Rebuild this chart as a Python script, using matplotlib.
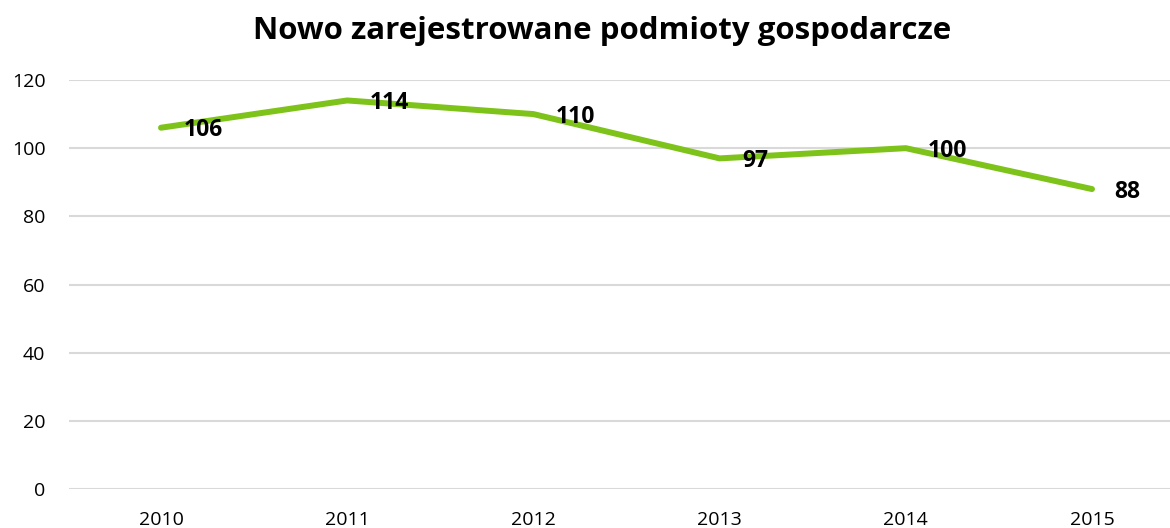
import matplotlib.pyplot as plt

plt.rcParams['font.family'] = ['Open Sans', 'DejaVu Sans']

# data
years = ['2010', '2011', '2012', '2013', '2014', '2015']
values = [106, 114, 110, 97, 100, 88]
yticks = [0, 20, 40, 60, 80, 100, 120]

lineColor = '#7dc31a'
gridColor = '#d9d9d9'

fig = plt.figure(figsize=(11.7, 5.28), dpi=100)
ax = fig.add_axes([69 / 1170, 1 - 489 / 528, 1 - 69 / 1170, (489 - 80) / 528])

x = list(range(len(years)))
ax.plot(x, values, color=lineColor, linewidth=4.3, solid_capstyle='round', zorder=3)

for xi, v in zip(x, values):
    ax.annotate(str(v), (xi, v), xytext=(16, -2), textcoords='offset points',
                ha='left', va='center', fontsize=16.5, fontweight='bold', color='black', zorder=4)

ax.set_ylim(0, 120)
ax.set_xlim(-92 / 186.2, 5 + 78 / 186.2)
ax.set_yticks(yticks)
ax.set_xticks(x)
ax.set_xticklabels(years)
ax.yaxis.grid(True, color=gridColor, linewidth=1.5)
ax.set_axisbelow(True)
for s in ax.spines.values():
    s.set_visible(False)
ax.tick_params(axis='both', length=0, labelsize=14, colors='black')
ax.tick_params(axis='y', pad=17)
ax.tick_params(axis='x', pad=15.5)

fig.text(602 / 1170, 1 - 31 / 528, 'Nowo zarejestrowane podmioty gospodarcze',
         ha='center', va='center', fontsize=22.5, fontweight='bold')

fig.savefig('out.png', dpi=100)
